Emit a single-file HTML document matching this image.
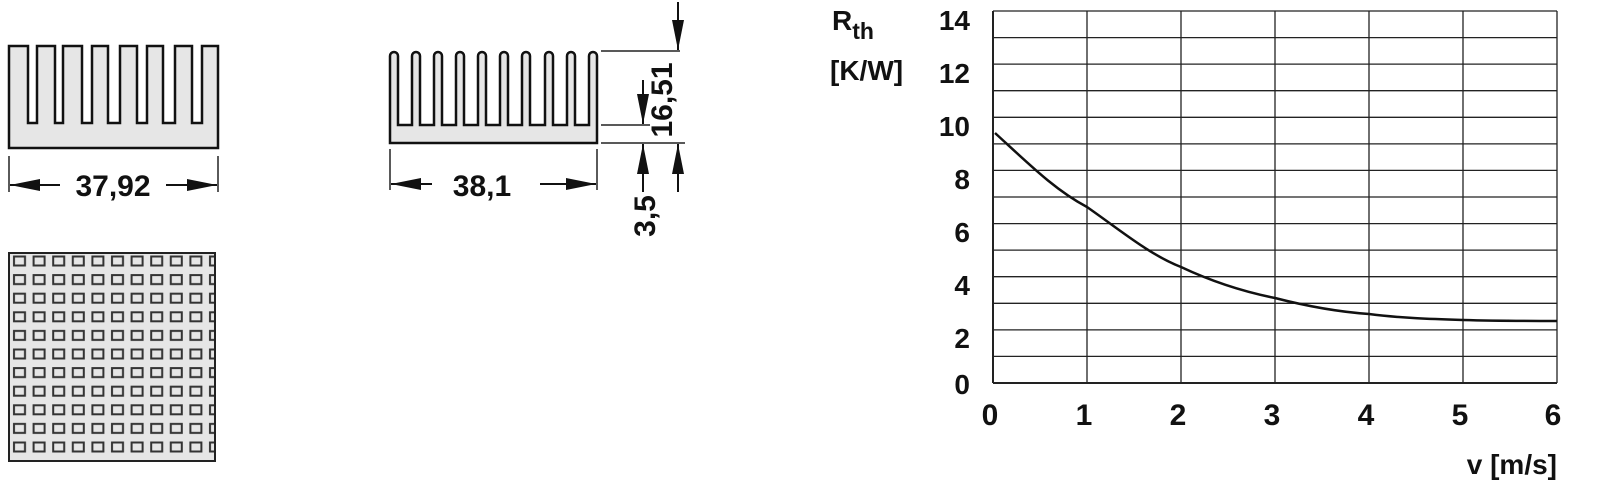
<!DOCTYPE html>
<html><head><meta charset="utf-8"><style>
html,body{margin:0;padding:0;background:#fff;}
svg{display:block}
text{font-family:"Liberation Sans",sans-serif;font-weight:bold;fill:#111}
</style></head><body>
<svg width="1600" height="489" viewBox="0 0 1600 489" xmlns="http://www.w3.org/2000/svg">
<defs>
<marker id="ah" viewBox="0 0 30 12" refX="30" refY="6" markerWidth="30" markerHeight="12" markerUnits="userSpaceOnUse" orient="auto"><path d="M0,0 L30,6 L0,12 z" fill="#111"/></marker>
<pattern id="holes" x="10" y="252" width="19.6" height="18.6" patternUnits="userSpaceOnUse">
<rect x="4" y="4.5" width="11" height="9" fill="none" stroke="#333" stroke-width="2"/>
</pattern>
</defs>

<!-- left profile -->
<path d="M9,46 H28 V123 H37 V46 H55 V123 H63 V46 H82 V123 H92 V46 H108 V123 H120 V46 H137 V123 H147 V46 H163 V123 H175 V46 H192 V123 H202 V46 H218 V148 H9 Z" fill="#e6e6e6" stroke="#111" stroke-width="2.5"/>
<line x1="9" y1="156" x2="9" y2="192" stroke="#222" stroke-width="1.5"/>
<line x1="218" y1="156" x2="218" y2="192" stroke="#222" stroke-width="1.5"/>
<line x1="60" y1="185" x2="10" y2="185" stroke="#111" stroke-width="2" marker-end="url(#ah)"/>
<line x1="166" y1="185" x2="217" y2="185" stroke="#111" stroke-width="2" marker-end="url(#ah)"/>
<text x="113" y="196" font-size="30" text-anchor="middle">37,92</text>

<!-- middle profile -->
<path d="M390,143 V56 a4,4 0 0 1 8,0 V125
 H412 V56 a4,4 0 0 1 8,0 V125
 H434 V56 a4,4 0 0 1 8,0 V125
 H456 V56 a4,4 0 0 1 8,0 V125
 H478 V56 a4,4 0 0 1 8,0 V125
 H500 V56 a4,4 0 0 1 8,0 V125
 H522 V56 a4,4 0 0 1 8,0 V125
 H545 V56 a4,4 0 0 1 8,0 V125
 H567 V56 a4,4 0 0 1 8,0 V125
 H589 V56 a4,4 0 0 1 8,0 V143 Z" fill="#e6e6e6" stroke="#111" stroke-width="2.5"/>
<line x1="390" y1="149" x2="390" y2="190" stroke="#222" stroke-width="1.5"/>
<line x1="597" y1="149" x2="597" y2="190" stroke="#222" stroke-width="1.5"/>
<line x1="432" y1="184" x2="391" y2="184" stroke="#111" stroke-width="2" marker-end="url(#ah)"/>
<line x1="540" y1="184" x2="596" y2="184" stroke="#111" stroke-width="2" marker-end="url(#ah)"/>
<text x="482" y="196" font-size="30" text-anchor="middle">38,1</text>

<!-- vertical dims -->
<line x1="601" y1="51" x2="680" y2="51" stroke="#222" stroke-width="1.5"/>
<line x1="601" y1="125" x2="650" y2="125" stroke="#222" stroke-width="1.5"/>
<line x1="601" y1="143" x2="685" y2="143" stroke="#222" stroke-width="1.5"/>
<line x1="678" y1="2" x2="678" y2="50" stroke="#111" stroke-width="2" marker-end="url(#ah)"/>
<line x1="643" y1="80" x2="643" y2="124" stroke="#111" stroke-width="2" marker-end="url(#ah)"/>
<line x1="643" y1="192" x2="643" y2="144" stroke="#111" stroke-width="2" marker-end="url(#ah)"/>
<line x1="678" y1="192" x2="678" y2="144" stroke="#111" stroke-width="2" marker-end="url(#ah)"/>
<text transform="translate(672,100) rotate(-90)" font-size="30" text-anchor="middle">16,51</text>
<text transform="translate(655,216) rotate(-90)" font-size="30" text-anchor="middle">3,5</text>

<!-- bottom-left grid -->
<rect x="9" y="253" width="206" height="208" fill="#e6e6e6" stroke="none"/>
<rect x="9" y="253" width="206" height="208" fill="url(#holes)"/>
<rect x="9" y="253" width="206" height="208" fill="none" stroke="#222" stroke-width="2"/>

<!-- graph -->
<g stroke="#222" stroke-width="1.3">
<line x1="993" y1="11" x2="1557" y2="11"/>
<line x1="993" y1="37.6" x2="1557" y2="37.6"/>
<line x1="993" y1="64.1" x2="1557" y2="64.1"/>
<line x1="993" y1="90.7" x2="1557" y2="90.7"/>
<line x1="993" y1="117.3" x2="1557" y2="117.3"/>
<line x1="993" y1="143.9" x2="1557" y2="143.9"/>
<line x1="993" y1="170.4" x2="1557" y2="170.4"/>
<line x1="993" y1="197" x2="1557" y2="197"/>
<line x1="993" y1="223.6" x2="1557" y2="223.6"/>
<line x1="993" y1="250.1" x2="1557" y2="250.1"/>
<line x1="993" y1="276.7" x2="1557" y2="276.7"/>
<line x1="993" y1="303.3" x2="1557" y2="303.3"/>
<line x1="993" y1="329.9" x2="1557" y2="329.9"/>
<line x1="993" y1="356.4" x2="1557" y2="356.4"/>
<line x1="993" y1="383" x2="1557" y2="383" stroke-width="2"/>
<line x1="993" y1="11" x2="993" y2="383" stroke-width="2"/>
<line x1="1087" y1="11" x2="1087" y2="383"/>
<line x1="1181" y1="11" x2="1181" y2="383"/>
<line x1="1275" y1="11" x2="1275" y2="383"/>
<line x1="1369" y1="11" x2="1369" y2="383"/>
<line x1="1463" y1="11" x2="1463" y2="383"/>
<line x1="1557" y1="11" x2="1557" y2="383"/>
</g>
<path d="M995,133 C1030,165 1055,190 1087,207 C1120,230 1150,255 1181,267 C1215,283 1245,292 1275,298 C1310,307 1340,312 1369,314 C1400,318 1430,319 1463,320 C1500,321 1530,321 1557,321" fill="none" stroke="#111" stroke-width="2.5"/>
<g font-size="28" text-anchor="end">
<text x="970" y="30">14</text>
<text x="970" y="83">12</text>
<text x="970" y="136">10</text>
<text x="970" y="189">8</text>
<text x="970" y="242">6</text>
<text x="970" y="295">4</text>
<text x="970" y="348">2</text>
<text x="970" y="394">0</text>
</g>
<g font-size="30" text-anchor="middle">
<text x="990" y="425">0</text>
<text x="1084" y="425">1</text>
<text x="1178" y="425">2</text>
<text x="1272" y="425">3</text>
<text x="1366" y="425">4</text>
<text x="1460" y="425">5</text>
<text x="1553" y="425">6</text>
</g>
<text x="1557" y="474" font-size="28" font-weight="normal" text-anchor="end">v [m/s]</text>
<text x="832" y="30" font-size="28">R<tspan font-size="23" dy="9">th</tspan></text>
<text x="830" y="80" font-size="28" font-weight="normal">[K/W]</text>
</svg>
</body></html>
